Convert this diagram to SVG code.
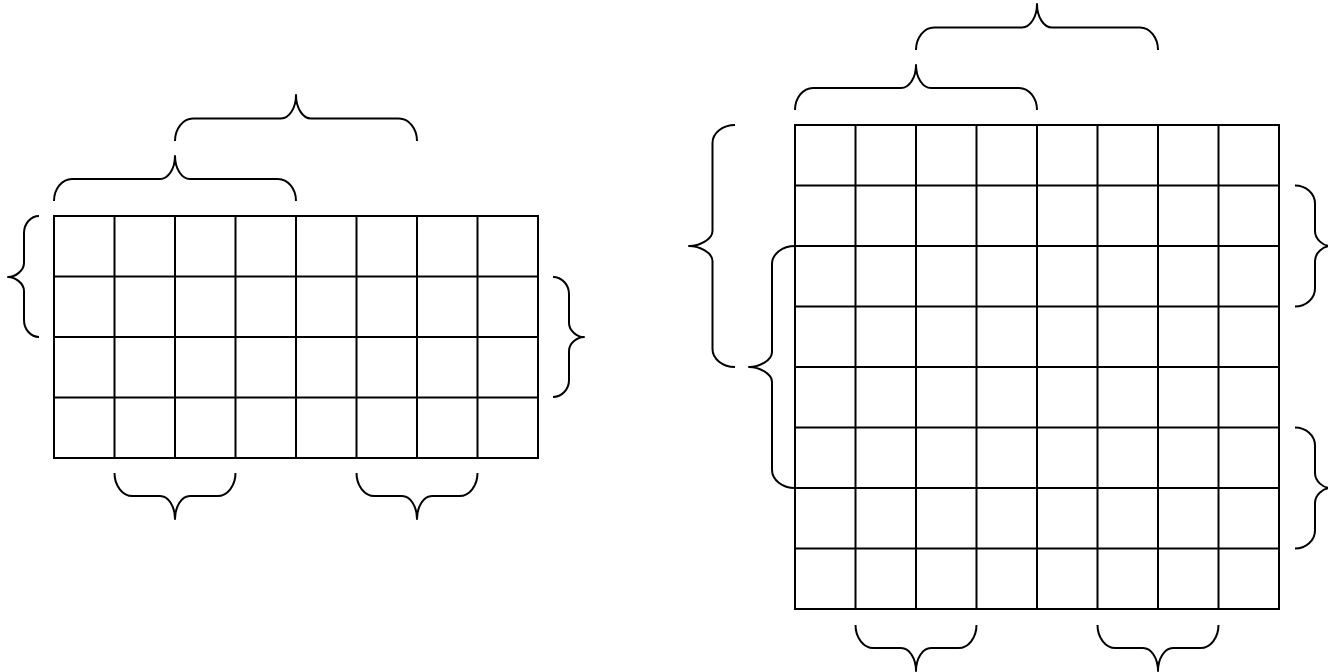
<svg xmlns="http://www.w3.org/2000/svg" width="1328" height="672" viewBox="0 0 1328 672">
<style>
.g{fill:none;stroke:#000;stroke-width:2}
.b{fill:none;stroke:#000;stroke-width:2;stroke-linejoin:round}
</style>
<rect width="1328" height="672" fill="#fff"/>
<g id="grid-left" class="g">
<rect x="54" y="216" width="484" height="242"/>
<path d="M114.5 216V458M175 216V458M235.5 216V458M296 216V458M356.5 216V458M417 216V458M477.5 216V458M54 276.5H538M54 337H538M54 397.5H538"/>
</g>
<g id="grid-right" class="g">
<rect x="795" y="125" width="484" height="484"/>
<path d="M855.5 125V609M916 125V609M976.5 125V609M1037 125V609M1097.5 125V609M1158 125V609M1218.5 125V609M795 185.5H1279M795 246H1279M795 306.5H1279M795 367H1279M795 427.5H1279M795 488H1279M795 548.5H1279"/>
</g>
<g id="braces" class="b">
<g id="left-top-1"><path d="M54 201C54 188.9 62.1 179 72 179L160 179C168.3 179 175 168.7 175 156C175 168.7 181.8 179 190 179L278 179C287.9 179 296 188.9 296 201"/></g>
<g id="left-top-2"><path d="M175 141C175 128.6 183.1 118.5 193 118.5L281 118.5C289.3 118.5 296 107.9 296 95C296 107.9 302.8 118.5 311 118.5L399 118.5C408.9 118.5 417 128.6 417 141"/></g>
<g id="left-side-l"><path d="M39 216C30.8 216 24 223.7 24 233L24 263C24 270.7 15.2 277 8 277C15.2 277 24 283.3 24 291L24 320C24 329.4 30.8 337 39 337"/></g>
<g id="left-side-r"><path d="M553 277C561.8 277 569 284.7 569 294L569 323C569 330.7 577.3 337 584 337C577.3 337 569 343.3 569 351L569 380C569 389.4 561.8 397 553 397"/></g>
<g id="left-bottom-1"><path d="M114.5 473C114.5 485.7 122.6 496 132.5 496L160 496C168.3 496 175 506.3 175 519C175 506.3 181.8 496 190 496L217.5 496C227.4 496 235.5 485.7 235.5 473"/></g>
<g id="left-bottom-2"><path d="M356.5 473C356.5 485.7 364.6 496 374.5 496L402 496C410.3 496 417 506.3 417 519C417 506.3 423.8 496 432 496L459.5 496C469.4 496 477.5 485.7 477.5 473"/></g>
<g id="right-top-1"><path d="M795 110C795 97.9 803.1 88 813 88L901 88C909.3 88 916 77.7 916 65C916 77.7 922.8 88 931 88L1019 88C1028.9 88 1037 97.9 1037 110"/></g>
<g id="right-top-2"><path d="M916 50C916 37.6 924.1 27.5 934 27.5L1022 27.5C1030.3 27.5 1037 16.9 1037 4C1037 16.9 1043.8 27.5 1052 27.5L1140 27.5C1149.9 27.5 1158 37.6 1158 50"/></g>
<g id="right-side-l-outer"><path d="M735 125C722.6 125 712.5 133.1 712.5 143L712.5 231C712.5 239.3 699.6 246 689 246C699.6 246 712.5 252.8 712.5 261L712.5 349C712.5 358.9 722.6 367 735 367"/></g>
<g id="right-side-l-inner"><path d="M795 246C782.4 246 772 254.1 772 264L772 352C772 360.3 759.4 367 749 367C759.4 367 772 373.8 772 382L772 470C772 479.9 782.4 488 795 488"/></g>
<g id="right-side-r-1"><path d="M1295 185.5C1306 185.5 1315 193.6 1315 203.5L1315 231C1315 239.3 1323.3 246 1330 246C1323.3 246 1315 252.8 1315 261L1315 288.5C1315 298.4 1306 306.5 1295 306.5"/></g>
<g id="right-side-r-2"><path d="M1295 427.5C1306 427.5 1315 435.6 1315 445.5L1315 473C1315 481.3 1323.3 488 1330 488C1323.3 488 1315 494.8 1315 503L1315 530.5C1315 540.4 1306 548.5 1295 548.5"/></g>
<g id="right-bottom-1"><path d="M855.5 625C855.5 637.7 863.6 648 873.5 648L901 648C909.3 648 916 658.3 916 671C916 658.3 922.8 648 931 648L958.5 648C968.4 648 976.5 637.7 976.5 625"/></g>
<g id="right-bottom-2"><path d="M1097.5 625C1097.5 637.7 1105.6 648 1115.5 648L1143 648C1151.3 648 1158 658.3 1158 671C1158 658.3 1164.8 648 1173 648L1200.5 648C1210.4 648 1218.5 637.7 1218.5 625"/></g>
</g>
</svg>
